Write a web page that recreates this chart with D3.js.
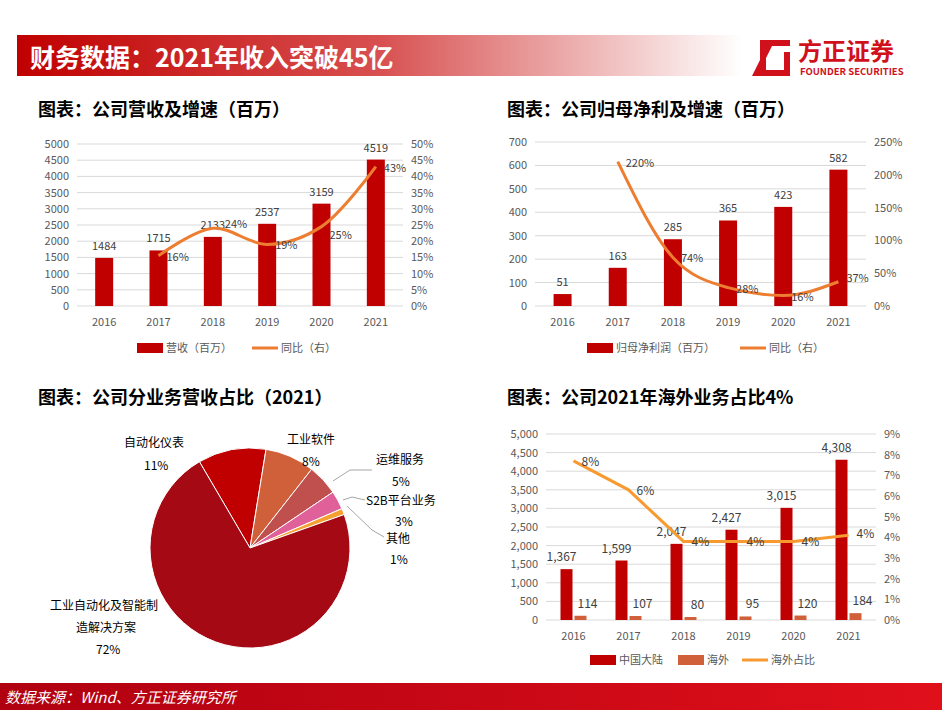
<!DOCTYPE html>
<html><head><meta charset="utf-8">
<script src="https://cdn.jsdelivr.net/npm/d3@7"></script>
<style>body{margin:0;background:#fff}svg{font-family:"Noto Sans CJK SC","Noto Sans",sans-serif}</style>
</head><body><svg id="c" width="942" height="710"></svg>
<script>
const years=["2016","2017","2018","2019","2020","2021"];
const revenue=[1484,1715,2133,2537,3159,4519];
const revGrowth=[null,0.155,0.24,0.19,0.245,0.43];
const revGrowthLbl=[null,"16%","24%","19%","25%","43%"];
const profit=[51,163,285,365,423,582];
const profGrowth=[null,2.20,0.74,0.28,0.16,0.37];
const profGrowthLbl=[null,"220%","74%","28%","16%","37%"];
const mainland=[1367,1599,2047,2427,3015,4308];
const overseas=[114,107,80,95,120,184];
const overseasShare=[0.077,0.063,0.038,0.038,0.038,0.041];
const shareLbl=["8%","6%","4%","4%","4%","4%"];
const pieNames=["自动化仪表","工业软件","运维服务","S2B平台业务","其他","工业自动化及智能制造解决方案"];
const pieVals=[11,8,5,3,1,72];

const svg=d3.select("#c");
const defs=svg.append("defs");
const g1=defs.append("linearGradient").attr("id","hg");
g1.append("stop").attr("offset","0").attr("stop-color","#C00000");
g1.append("stop").attr("offset","0.5").attr("stop-color","#D85050");
g1.append("stop").attr("offset","1").attr("stop-color","#fff");
svg.append("rect").attr("x",17).attr("y",35).attr("width",725).attr("height",41).attr("fill","url(#hg)");
svg.append("text").attr("x",30).attr("y",67).attr("fill","#fff").attr("font-size",25).attr("font-weight","bold").text("财务数据：2021年收入突破45亿");
// logo
svg.append("path").attr("d","M760,40 L790,40 L790,46 L772,46 L766,58 L766,70 L784,70 L784,52 L790,52 L790,76 L752,76 L760,60 Z").attr("fill","#D0101B");
svg.append("text").attr("x",798).attr("y",60).attr("fill","#D0101B").attr("font-size",24).attr("font-weight","bold").text("方正证券");
svg.append("text").attr("x",800).attr("y",75).attr("fill","#D0101B").attr("font-size",9.5).attr("font-weight","bold").text("FOUNDER SECURITIES");
// footer
const g2=defs.append("linearGradient").attr("id","fg");
g2.append("stop").attr("offset","0").attr("stop-color","#B00010");
g2.append("stop").attr("offset","1").attr("stop-color","#E0101B");
svg.append("rect").attr("x",0).attr("y",683).attr("width",942).attr("height",27).attr("fill","url(#fg)");
svg.append("text").attr("x",5).attr("y",703).attr("fill","#fff").attr("font-size",15).attr("font-style","italic").text("数据来源：Wind、方正证券研究所");

const titles=[[38,116,"图表：公司营收及增速（百万）"],[507,116,"图表：公司归母净利及增速（百万）"],[38,404,"图表：公司分业务营收占比（2021）"],[507,404,"图表：公司2021年海外业务占比4%"]];
titles.forEach(t=>svg.append("text").attr("x",t[0]).attr("y",t[1]).attr("font-size",18).attr("font-weight","bold").attr("fill","#000").text(t[2]));

const tc="#595959";
function combo(o){
  const g=svg.append("g");
  const x=d3.scaleBand().domain(years).range([o.x0,o.x1]);
  const y=d3.scaleLinear().domain([0,o.ymax]).range([o.yb,o.yt]);
  const y2=d3.scaleLinear().domain([0,o.y2max]).range([o.yb,o.yt]);
  o.lt.forEach(v=>{
    g.append("line").attr("x1",o.x0).attr("x2",o.x1).attr("y1",y(v)).attr("y2",y(v)).attr("stroke","#D9D9D9");
    g.append("text").attr("x",o.x0-8).attr("y",y(v)+4).attr("text-anchor","end").attr("font-size",11).attr("fill",tc).text(o.lf(v));
  });
  o.rt.forEach(v=>g.append("text").attr("x",o.x1+8).attr("y",y2(v)+4).attr("font-size",11).attr("fill",tc).text(o.rf(v)));
  years.forEach(yr=>g.append("text").attr("x",x(yr)+x.bandwidth()/2).attr("y",o.yb+20).attr("text-anchor","middle").attr("font-size",11).attr("fill",tc).text(yr));
  o.bars.forEach(b=>{
    b.vals.forEach((v,i)=>{
      const cx=x(years[i])+x.bandwidth()/2+b.off;
      g.append("rect").attr("x",cx-b.w/2).attr("width",b.w).attr("y",y(v)).attr("height",o.yb-y(v)).attr("fill",b.color);
      g.append("text").attr("x",cx+b.lx).attr("y",y(v)-8).attr("text-anchor","middle").attr("font-size",b.fs||11).attr("fill","#404040").text(b.fmt(v));
    });
  });
  const pts=o.line.map((v,i)=>v==null?null:[x(years[i])+x.bandwidth()/2,y2(v)]).filter(p=>p);
  g.append("path").attr("d",d3.line().curve(o.curve)(pts)).attr("fill","none").attr("stroke",o.lc).attr("stroke-width",3);
  let k=0;o.line.forEach((v,i)=>{if(v==null)return;const p=pts[k++];
    g.append("text").attr("x",p[0]+(o.llx?o.llx[i]:8)).attr("y",p[1]+(o.lly?o.lly[i]:5)).attr("font-size",o.lfs||11).attr("fill","#404040").text(o.ll[i]);});
  return {x,y};
}
combo({x0:77,x1:403,yb:306,yt:144,ymax:5000,y2max:0.5,lt:d3.range(0,5001,500),lf:v=>v,rt:d3.range(0,0.501,0.05),rf:v=>Math.round(v*100)+"%",
  bars:[{vals:revenue,w:18,off:0,color:"#C00000",lx:0,fmt:v=>v}],line:revGrowth,ll:revGrowthLbl,lc:"#ED7D31",curve:d3.curveCatmullRom,
  lly:[0,5,0,5,12,5],llx:[8,8,12,8,8,8]});
combo({x0:535,x1:866,yb:306,yt:142,ymax:700,y2max:2.5,lt:d3.range(0,701,100),lf:v=>v,rt:d3.range(0,2.501,0.5),rf:v=>Math.round(v*100)+"%",
  bars:[{vals:profit,w:18,off:0,color:"#C00000",lx:0,fmt:v=>v}],line:profGrowth,ll:profGrowthLbl,lc:"#ED7D31",curve:d3.curveMonotoneX,
  lly:[0,5,5,5,5,0]});
combo({x0:546,x1:876,yb:620,yt:434,ymax:5000,y2max:0.09,lt:d3.range(0,5001,500),lf:d3.format(","),rt:d3.range(0,0.0901,0.01),rf:v=>Math.round(v*100)+"%",
  bars:[{vals:mainland,w:12,off:-7,color:"#C00000",lx:-5,fmt:d3.format(","),fs:12},{vals:overseas,w:12,off:7,color:"#D0603A",lx:7,fmt:v=>v,fs:12}],
  line:overseasShare,ll:shareLbl,lc:"#F79A30",curve:d3.curveLinear,lfs:12,lly:[5,5,5,5,5,3]});

function lg(y,items){items.forEach(it=>{
  if(it.t==="r")svg.append("rect").attr("x",it.x).attr("y",y-5).attr("width",26).attr("height",10).attr("fill",it.c);
  else svg.append("line").attr("x1",it.x).attr("x2",it.x+26).attr("y1",y).attr("y2",y).attr("stroke",it.c).attr("stroke-width",3);
  svg.append("text").attr("x",it.x+29).attr("y",y+4).attr("font-size",11).attr("fill",tc).text(it.s);});}
lg(348,[{t:"r",x:137,c:"#C00000",s:"营收（百万）"},{t:"l",x:252,c:"#ED7D31",s:"同比（右）"}]);
lg(348,[{t:"r",x:587,c:"#C00000",s:"归母净利润（百万）"},{t:"l",x:740,c:"#ED7D31",s:"同比（右）"}]);
lg(660,[{t:"r",x:590,c:"#C00000",s:"中国大陆"},{t:"r",x:678,c:"#D0603A",s:"海外"},{t:"l",x:742,c:"#F79A30",s:"海外占比"}]);

const pc=[250,548],R=100;
const cols=["#C00000","#D0603A","#C0504D","#E0609A","#F5A030","#A50A14"];
const arcs=d3.pie().sort(null).startAngle(-0.53).endAngle(-0.53+2*Math.PI)(pieVals);
const arc=d3.arc().innerRadius(0).outerRadius(R);
const pg=svg.append("g").attr("transform",`translate(${pc})`);
pg.selectAll("path").data(arcs).join("path").attr("d",arc).attr("fill",(d,i)=>cols[i]).attr("stroke","#fff").attr("stroke-width",1);
const pl=svg.append("g").attr("font-size",12).attr("fill","#000");
function T(x,y,s){pl.append("text").attr("x",x).attr("y",y).text(s);}
T(124,447,pieNames[0]);T(144,470,pieVals[0]+"%");
T(287,444,pieNames[1]);T(302,466,pieVals[1]+"%");
T(376,464,pieNames[2]);T(392,486,pieVals[2]+"%");
T(366,505,pieNames[3]);T(395,526,pieVals[3]+"%");
T(386,543,pieNames[4]);T(390,564,pieVals[4]+"%");
T(50,610,"工业自动化及智能制");T(76,632,"造解决方案");T(96,654,pieVals[5]+"%");
const ld=[[[333,481],[350,470],[372,470]],[[343,500],[352,497],[365,500]],[[347,506],[372,530],[384,537]]];
ld.forEach(p=>svg.append("path").attr("d",d3.line()(p)).attr("fill","none").attr("stroke","#A6A6A6"));
</script></body></html>
